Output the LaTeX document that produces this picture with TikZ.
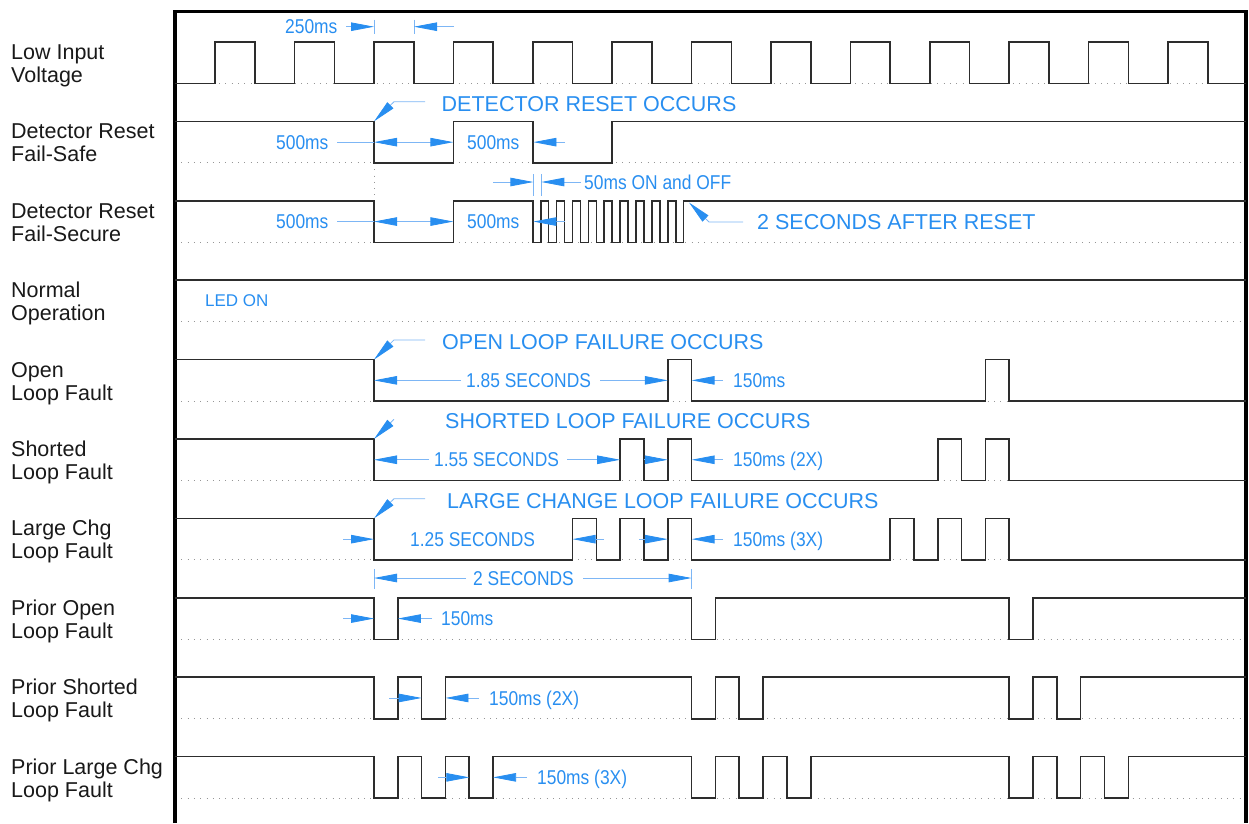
\documentclass[tikz,border=0pt]{standalone}
\usepackage{fontspec}
\setmainfont{Liberation Sans}
\newfontfamily\condfont[FakeStretch=0.87]{Liberation Sans}
\usetikzlibrary{arrows.meta}
\definecolor{wavecol}{RGB}{45,45,45}
\definecolor{dotcol}{RGB}{150,150,150}
\definecolor{ann}{RGB}{40,142,240}
\definecolor{annline}{RGB}{125,182,245}
\definecolor{labcol}{RGB}{25,25,25}
\newcommand{\tpos}[1]{374+158.8*(#1)}
\begin{document}
\begin{tikzpicture}[x=1pt,y=-1pt,
  >={Triangle[length=23pt,width=8.5pt,color=ann]},
  wave/.style={draw=wavecol,line width=1.6pt,line join=miter},
  basel/.style={draw=dotcol,line width=0.9pt,dash pattern=on 0.9pt off 5.4pt},
  dim/.style={draw=annline,line width=0.8pt},
  frame/.style={draw=black,line width=3.2pt},
  lbl/.style={anchor=base west,inner sep=0pt,font=\fontsize{21.5}{23}\selectfont,text=labcol},
  note/.style={anchor=base west,inner sep=0pt,font=\condfont\fontsize{20}{22}\selectfont,text=ann},
  bignote/.style={anchor=base west,inner sep=0pt,font=\fontsize{21.5}{24}\selectfont,text=ann},
  smallnote/.style={anchor=base west,inner sep=0pt,font=\fontsize{17}{19}\selectfont,text=ann}]
\useasboundingbox (0,0) rectangle (1249,823);

% dotted base lines
\foreach \k in {1,...,10}
  \draw[basel] (175,{42+79.4*(\k-1)+41.5}) -- (1246,{42+79.4*(\k-1)+41.5});
\draw[basel] (374,162.9) -- (374,200.8);

% frame
\draw[frame] (175,823) -- (175,11.5) -- (1246,11.5) -- (1246,823);

% row labels
\node[lbl] (lab1a) at (11,59.5) {Low Input};
\node[lbl] (lab1b) at (11,82.5) {Voltage};
\node[lbl] (lab2a) at (11,138.9) {Detector Reset};
\node[lbl] (lab2b) at (11,161.9) {Fail-Safe};
\node[lbl] (lab3a) at (11,218.3) {Detector Reset};
\node[lbl] (lab3b) at (11,241.3) {Fail-Secure};
\node[lbl] (lab4a) at (11,297.7) {Normal};
\node[lbl] (lab4b) at (11,320.7) {Operation};
\node[lbl] (lab5a) at (11,377.1) {Open};
\node[lbl] (lab5b) at (11,400.1) {Loop Fault};
\node[lbl] (lab6a) at (11,456.5) {Shorted};
\node[lbl] (lab6b) at (11,479.5) {Loop Fault};
\node[lbl] (lab7a) at (11,535.9) {Large Chg};
\node[lbl] (lab7b) at (11,558.9) {Loop Fault};
\node[lbl] (lab8a) at (11,615.3) {Prior Open};
\node[lbl] (lab8b) at (11,638.3) {Loop Fault};
\node[lbl] (lab9a) at (11,694.7) {Prior Shorted};
\node[lbl] (lab9b) at (11,717.7) {Loop Fault};
\node[lbl] (lab10a) at (11,774.1) {Prior Large Chg};
\node[lbl] (lab10b) at (11,797.1) {Loop Fault};

% row 1: low input voltage
\draw[wave] (175,83.5) foreach \k in {0,...,12}{
  -- ({\tpos{-1+0.5*\k}},83.5) -- ({\tpos{-1+0.5*\k}},42)
  -- ({\tpos{-0.75+0.5*\k}},42) -- ({\tpos{-0.75+0.5*\k}},83.5) } -- (1246,83.5);
% row 2: fail-safe
\draw[wave] (175,121.4) -- (374,121.4) -- (374,162.9) -- ({\tpos{0.5}},162.9)
  -- ({\tpos{0.5}},121.4) -- ({\tpos{1}},121.4) -- ({\tpos{1}},162.9)
  -- ({\tpos{1.5}},162.9) -- ({\tpos{1.5}},121.4) -- (1246,121.4);
% row 3: fail-secure
\draw[wave] (175,200.8) -- (374,200.8) -- (374,242.3) -- ({\tpos{0.5}},242.3)
  -- ({\tpos{0.5}},200.8) foreach \k in {0,...,9}{
  -- ({\tpos{1+0.1*\k}},200.8) -- ({\tpos{1+0.1*\k}},242.3)
  -- ({\tpos{1.05+0.1*\k}},242.3) -- ({\tpos{1.05+0.1*\k}},200.8) } -- (1246,200.8);
% row 4: normal operation
\draw[wave] (175,280.2) -- (1246,280.2);
% row 5: open loop
\draw[wave] (175,359.6) -- (374,359.6) -- (374,401.1) foreach \s in {1.85,3.85}{
  -- ({\tpos{\s}},401.1) -- ({\tpos{\s}},359.6) -- ({\tpos{\s+0.15}},359.6)
  -- ({\tpos{\s+0.15}},401.1) } -- (1246,401.1);
% row 6: shorted loop
\draw[wave] (175,439) -- (374,439) -- (374,480.5) foreach \s in {1.55,1.85,3.55,3.85}{
  -- ({\tpos{\s}},480.5) -- ({\tpos{\s}},439) -- ({\tpos{\s+0.15}},439)
  -- ({\tpos{\s+0.15}},480.5) } -- (1246,480.5);
% row 7: large change
\draw[wave] (175,518.4) -- (374,518.4) -- (374,559.9) foreach \s in {1.25,1.55,1.85,3.25,3.55,3.85}{
  -- ({\tpos{\s}},559.9) -- ({\tpos{\s}},518.4) -- ({\tpos{\s+0.15}},518.4)
  -- ({\tpos{\s+0.15}},559.9) } -- (1246,559.9);
% row 8: prior open
\draw[wave] (175,597.8) foreach \s in {0,2,4}{
  -- ({\tpos{\s}},597.8) -- ({\tpos{\s}},639.3) -- ({\tpos{\s+0.15}},639.3)
  -- ({\tpos{\s+0.15}},597.8) } -- (1246,597.8);
% row 9: prior shorted
\draw[wave] (175,677.2) foreach \s in {0,0.3,2,2.3,4,4.3}{
  -- ({\tpos{\s}},677.2) -- ({\tpos{\s}},718.7) -- ({\tpos{\s+0.15}},718.7)
  -- ({\tpos{\s+0.15}},677.2) } -- (1246,677.2);
% row 10: prior large change
\draw[wave] (175,756.6) foreach \s in {0,0.3,0.6,2,2.3,2.6,4,4.3,4.6}{
  -- ({\tpos{\s}},756.6) -- ({\tpos{\s}},798.1) -- ({\tpos{\s+0.15}},798.1)
  -- ({\tpos{\s+0.15}},756.6) } -- (1246,756.6);

% ---- annotations ----
% 250ms
\draw[dim] (374,19.5) -- (374,34); \draw[dim] (414,19.5) -- (414,34);
\draw[dim,->] (346,26.7) -- (374,26.7);
\draw[dim,->] (454,26.7) -- (414,26.7);
\node[note] (t250) at (285,33.9) {250ms};

% row 2
\draw[dim,->] (425,101.7) -- (394,101.7) -- (374,121.4);
\node[bignote] (tdro) at (441.5,111.7) {DETECTOR RESET OCCURS};
\draw[dim] (337,142.15) -- (374,142.15);
\draw[dim,<->] (374,142.15) -- (453.4,142.15);
\draw[dim,->] (565,142.15) -- (533.4,142.15);
\node[note] (t2a) at (276,149.3) {500ms};
\node[note] (t2b) at (467,149.3) {500ms};

% 50ms
\draw[dim] (533.4,174) -- (533.4,196); \draw[dim] (541.3,174) -- (541.3,196);
\draw[dim,->] (493,182) -- (533.4,182);
\draw[dim,->] (581,182) -- (541.3,182);
\node[note] (t50) at (584,189.2) {50ms ON and OFF};

% row 3
\draw[dim] (337,221.55) -- (374,221.55);
\draw[dim,<->] (374,221.55) -- (453.4,221.55);
\draw[dim,->] (565,221.55) -- (533.4,221.55);
\node[note] (t3a) at (276,228.7) {500ms};
\node[note] (t3b) at (467,228.7) {500ms};
\draw[dim,->] (743,222) -- (709,222) -- (689,202.5);
\node[bignote] (t2s) at (757,229.7) {2 SECONDS AFTER RESET};

% row 4
\node[smallnote] (tled) at (205,306.1) {LED ON};

% row 5
\draw[dim,->] (425,339.9) -- (394,339.9) -- (374,359.6);
\node[bignote] (tolf) at (442,349.3) {OPEN LOOP FAILURE OCCURS};
\draw[dim,->] (461,380.35) -- (374,380.35);
\draw[dim,->] (600,380.35) -- ({\tpos{1.85}},380.35);
\draw[dim,->] (723,380.35) -- ({\tpos{2}},380.35);
\node[note] (t5a) at (466,387.5) {1.85 SECONDS};
\node[note] (t5b) at (733,387.5) {150ms};

% row 6
\draw[dim,->] (394,419.3) -- (374,439);
\node[bignote] (tslf) at (445,428.7) {SHORTED LOOP FAILURE OCCURS};
\draw[dim,->] (429,459.75) -- (374,459.75);
\draw[dim,->] (567,459.75) -- ({\tpos{1.55}},459.75);
\draw[dim,->] (644,459.75) -- ({\tpos{1.85}},459.75);
\draw[dim,->] (723,459.75) -- ({\tpos{2}},459.75);
\node[note] (t6a) at (434,466.9) {1.55 SECONDS};
\node[note] (t6b) at (733,466.9) {150ms (2X)};

% row 7
\draw[dim,->] (425,498.7) -- (394,498.7) -- (374,518.4);
\node[bignote] (tlcf) at (447,508.1) {LARGE CHANGE LOOP FAILURE OCCURS};
\draw[dim,->] (343,539.15) -- (374,539.15);
\draw[dim,->] (604,539.15) -- ({\tpos{1.25}},539.15);
\draw[dim,->] (639,539.15) -- ({\tpos{1.85}},539.15);
\draw[dim,->] (723,539.15) -- ({\tpos{2}},539.15);
\node[note] (t7a) at (410,546.3) {1.25 SECONDS};
\node[note] (t7b) at (733,546.3) {150ms (3X)};

% 2 seconds
\draw[dim] (374,569) -- (374,589); \draw[dim] ({\tpos{2}},569) -- ({\tpos{2}},589);
\draw[dim,->] (466,578) -- (374,578);
\draw[dim,->] (583,578) -- ({\tpos{2}},578);
\node[note] (t2sec) at (473,585.2) {2 SECONDS};

% row 8
\draw[dim,->] (343,618.55) -- (374,618.55);
\draw[dim,->] (432,618.55) -- ({\tpos{0.15}},618.55);
\node[note] (t8) at (441,625.7) {150ms};

% row 9
\draw[dim,->] (389,697.95) -- ({\tpos{0.3}},697.95);
\draw[dim,->] (479,697.95) -- ({\tpos{0.45}},697.95);
\node[note] (t9) at (489,705.1) {150ms (2X)};

% row 10
\draw[dim,->] (438,777.35) -- ({\tpos{0.6}},777.35);
\draw[dim,->] (527,777.35) -- ({\tpos{0.75}},777.35);
\node[note] (t10) at (537,784.5) {150ms (3X)};
\end{tikzpicture}
\end{document}
